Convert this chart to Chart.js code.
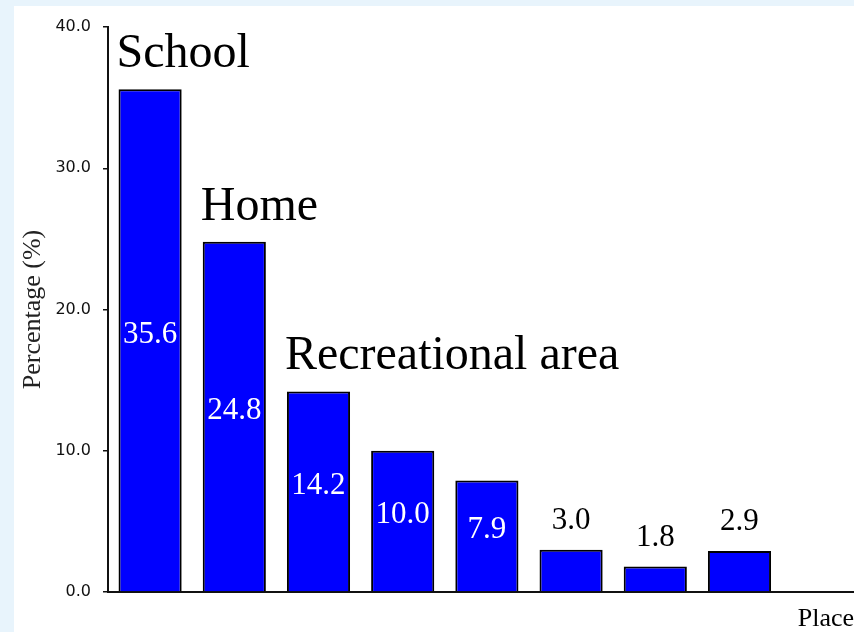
<!DOCTYPE html>
<html lang="en">
<head>
  <meta charset="UTF-8" />
  <title>Percentage by place</title>
  <script src="https://cdn.jsdelivr.net/npm/chart.js"></script>
  <style>
    body { margin: 0; background: #e8f4fc; }
    canvas { display: block; }
  </style>
</head>
<body>
  <canvas id="placeChart" width="854" height="632"></canvas>
  <script>
    // places (only the first three are named on the chart) and their shares
    const places = ['School', 'Home', 'Recreational area', '', '', '', '', ''];
    const percentages = [35.6, 24.8, 14.2, 10.0, 7.9, 3.0, 1.8, 2.9];
    const yTicks = [0, 10, 20, 30, 40];

    // light blue page behind a white panel
    const panelPlugin = {
      id: 'panel',
      beforeDraw(chart) {
        const c = chart.ctx;
        c.save();
        c.fillStyle = '#e8f4fc';
        c.fillRect(0, 0, chart.width, chart.height);
        c.fillStyle = '#ffffff';
        c.fillRect(14, 6, chart.width - 14, chart.height - 6);
        c.restore();
      }
    };

    // place names over the bars, values inside (white) or above (black)
    const labelPlugin = {
      id: 'barLabels',
      afterDatasetsDraw(chart) {
        const c = chart.ctx;
        const bars = chart.getDatasetMeta(0).data;
        const base = chart.scales.y.getPixelForValue(0);
        c.save();
        c.textBaseline = 'alphabetic';
        bars.forEach((bar, i) => {
          const v = percentages[i];
          c.textAlign = 'center';
          c.font = '31px "Liberation Serif", serif';
          if (v >= 5) {
            c.fillStyle = '#ffffff';
            c.fillText(v.toFixed(1), bar.x, (bar.y + base) / 2 + 2);
          } else {
            c.fillStyle = '#000000';
            c.fillText(v.toFixed(1), bar.x, bar.y - 21);
          }
          if (places[i]) {
            c.textAlign = 'left';
            c.font = '48px "Liberation Serif", serif';
            c.fillStyle = '#000000';
            c.fillText(places[i], bar.x - bar.width / 2 - 2, bar.y - 22);
          }
        });
        c.restore();
      }
    };

    const ctx = document.getElementById('placeChart').getContext('2d');

    new Chart(ctx, {
      type: 'bar',
      data: {
        datasets: [{
          data: percentages.map((v, i) => ({ x: i + 0.5, y: v })),
          backgroundColor: '#0000ff',
          borderColor: '#000000',
          borderWidth: 2,
          barPercentage: 0.75,
          categoryPercentage: 1
        }]
      },
      options: {
        responsive: false,
        devicePixelRatio: 1,
        animation: false,
        layout: { padding: { top: 27, right: 0, bottom: 0, left: 0 } },
        plugins: {
          legend: { display: false },
          tooltip: { enabled: false }
        },
        scales: {
          x: {
            type: 'linear',
            offset: false,
            min: 0,
            max: 8.86,
            // hidden ticks on the slot boundaries, so bar width follows the slot
            afterBuildTicks: s => { s.ticks = places.map((_, i) => ({ value: i })); },
            ticks: { display: false },
            grid: { display: false, offset: false },
            border: { color: '#111', width: 2 },
            title: {
              display: true,
              text: 'Place',
              align: 'end',
              color: '#000',
              font: { family: '"Liberation Serif", serif', size: 26, lineHeight: 1 },
              padding: { top: 14, bottom: 0 }
            },
            afterFit: s => { s.height = 40; }
          },
          y: {
            min: 0,
            max: 40,
            afterBuildTicks: s => { s.ticks = yTicks.map(v => ({ value: v })); },
            ticks: {
              callback: v => Number(v).toFixed(1),
              color: '#111',
              font: { family: '"DejaVu Sans", sans-serif', size: 16 },
              padding: 12
            },
            grid: { drawOnChartArea: false, tickLength: 5, color: '#111', lineWidth: 1.5 },
            border: { color: '#111', width: 2 },
            title: {
              display: true,
              text: 'Percentage (%)',
              color: '#222',
              font: { family: '"Liberation Serif", serif', size: 26, lineHeight: 1 },
              padding: { top: 20, bottom: 0 }
            },
            afterFit: s => { s.width = 108; }
          }
        }
      },
      plugins: [panelPlugin, labelPlugin]
    });
  </script>
</body>
</html>
